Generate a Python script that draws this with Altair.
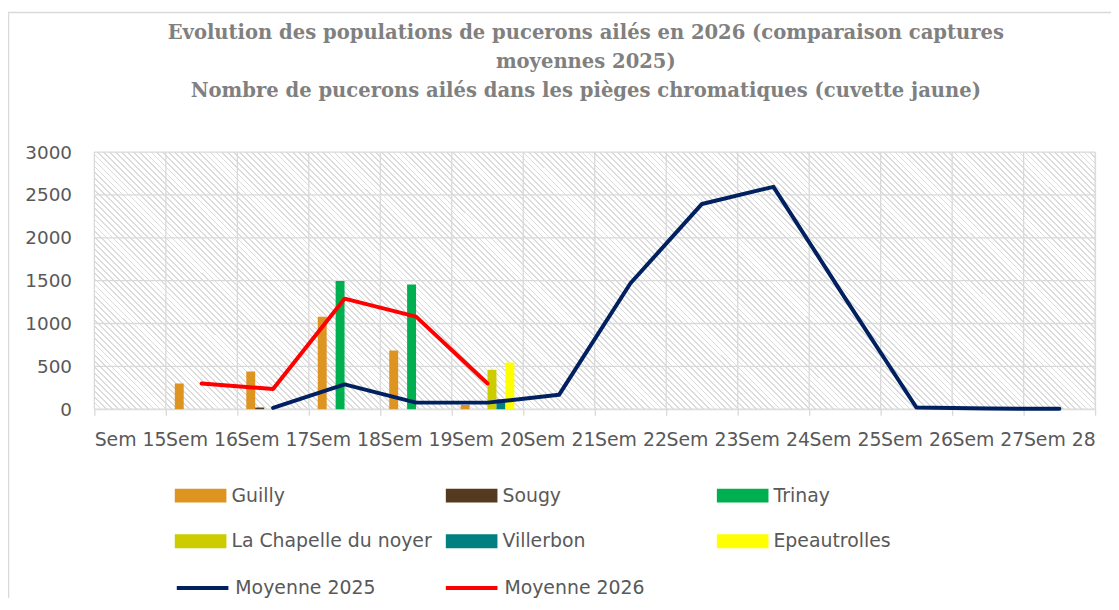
import altair as alt
import pandas as pd

weeks = ["Sem 15", "Sem 16", "Sem 17", "Sem 18", "Sem 19", "Sem 20", "Sem 21",
         "Sem 22", "Sem 23", "Sem 24", "Sem 25", "Sem 26", "Sem 27", "Sem 28"]

sites = ["Guilly", "Sougy", "Trinay", "La Chapelle du noyer", "Villerbon", "Epeautrolles"]
site_colors = ["#DE9420", "#553A20", "#00B050", "#CCCC00", "#008080", "#FFFF00"]

guilly = [None, 300, 440, 1080, 685, 50, None, None, None, None, None, None, None, None]
sougy = [None, None, 20, None, None, None, None, None, None, None, None, None, None, None]
trinay = [None, None, None, 1495, 1455, None, None, None, None, None, None, None, None, None]
la_chapelle = [None, None, None, None, None, 460, None, None, None, None, None, None, None, None]
villerbon = [None, None, None, None, None, 115, None, None, None, None, None, None, None, None]
epeautrolles = [None, None, None, None, None, 545, None, None, None, None, None, None, None, None]

avg_names = ["Moyenne 2025", "Moyenne 2026"]
avg_colors = ["#002060", "#FF0000"]
moy_2025 = [None, None, 15, 290, 77, 77, 168, 1470, 2395, 2595, 1300, 20, 8, 5]
moy_2026 = [None, 300, 235, 1290, 1080, 300, None, None, None, None, None, None, None, None]

y_ticks = [0, 500, 1000, 1500, 2000, 2500, 3000]

title_lines = [
    "Evolution des populations de pucerons ailés en 2026 (comparaison captures",
    "moyennes 2025)",
    "Nombre de pucerons ailés dans les pièges chromatiques (cuvette jaune)",
]

# ---- tables built from the arrays ----
bar_rows = []
for name, vals in zip(sites, [guilly, sougy, trinay, la_chapelle, villerbon, epeautrolles]):
    for w, v in zip(weeks, vals):
        if v is not None:
            bar_rows.append({"week": w, "site": name, "value": v})
bars_df = pd.DataFrame(bar_rows)

line_rows = []
for name, vals in zip(avg_names, [moy_2025, moy_2026]):
    for w, v in zip(weeks, vals):
        if v is not None:
            line_rows.append({"week": w, "serie": name, "value": v})
lines_df = pd.DataFrame(line_rows)

W, H = 1008, 259
GRID = "#d9d9d9"
LABEL = "#595959"
FONT = "DejaVu Sans"

# diagonal hatch (Excel pattern fill) approximated by a striped linear gradient
n_stripes = 213
frac = 0.3
stripe = "#dcdcdc"
stops = []
for k in range(n_stripes):
    a = k / n_stripes
    b = (k + frac) / n_stripes
    c = (k + 1) / n_stripes
    stops += [
        {"offset": round(a, 6), "color": stripe},
        {"offset": round(b, 6), "color": stripe},
        {"offset": round(b, 6), "color": "#ffffff"},
        {"offset": round(c, 6), "color": "#ffffff"},
    ]
hatch = alt.LinearGradient(gradient="linear", x1=0, y1=1, x2=1.179, y2=0.697, stops=stops)

xscale = alt.Scale(domain=weeks, paddingInner=0, paddingOuter=0)
yscale = alt.Scale(domain=[0, 3000], nice=False)

x_axis = alt.Axis(tickBand="extent", grid=False, domain=False, ticks=True,
                  tickSize=6, tickColor=GRID, tickWidth=1.3, labelAngle=0,
                  labelFont=FONT, labelFontSize=19, labelColor=LABEL,
                  labelPadding=16, labelOverlap=False, labelLimit=200, title=None)
y_axis = alt.Axis(values=y_ticks, format="d", grid=False, domain=False, ticks=False,
                  labelFont=FONT, labelFontSize=18.5, labelColor=LABEL,
                  labelPadding=23, title=None)

one = alt.Data(values=[{"k": 1}])

frame = alt.Chart(one).mark_rect(fill="transparent", stroke=GRID, strokeWidth=1.5).encode(
    x=alt.value(-86.5), x2=alt.value(W + 20), y=alt.value(-140.5), y2=alt.value(H + 200)
)

background = alt.Chart(one).mark_rect(fill=hatch, strokeWidth=0).encode(
    x=alt.value(0), x2=alt.value("width"), y=alt.value(0), y2=alt.value("height")
)

hgrid = alt.Chart(alt.Data(values=[{"value": v} for v in y_ticks])).mark_rule(
    color=GRID, strokeWidth=1.3
).encode(
    y=alt.Y("value:Q", scale=yscale, axis=y_axis),
    x=alt.value(0), x2=alt.value("width"),
)

vgrid = alt.Chart(alt.Data(values=[{"week": w} for w in weeks])).mark_rule(
    color=GRID, strokeWidth=1.3
).encode(
    x=alt.X("week:N", scale=xscale, bandPosition=0, axis=x_axis),
    y=alt.value(0), y2=alt.value("height"),
)

right_edge = alt.Chart(one).mark_rule(color=GRID, strokeWidth=1.3).encode(
    x=alt.value("width"), y=alt.value(0), y2=alt.value("height")
)

bars = alt.Chart(bars_df).mark_bar(strokeWidth=0).encode(
    x=alt.X("week:N", scale=xscale, axis=x_axis),
    xOffset=alt.XOffset("site:N", scale=alt.Scale(domain=sites, paddingInner=0, paddingOuter=1)),
    y=alt.Y("value:Q", scale=yscale, axis=y_axis),
    color=alt.Color("site:N", scale=alt.Scale(domain=sites, range=site_colors),
                    legend=alt.Legend(orient="none", legendX=81, legendY=320, title=None,
                                      direction="horizontal",
                                      columns=3, gridAlign="all", columnPadding=14,
                                      rowPadding=10, padding=0,
                                      symbolType="M-1,-0.27H1V0.27H-1Z", symbolSize=2704,
                                      symbolStrokeWidth=0, labelOffset=5,
                                      labelFont=FONT, labelFontSize=19, labelColor=LABEL,
                                      labelLimit=400)),
)

lines = alt.Chart(lines_df).mark_line(strokeWidth=4, strokeJoin="round", strokeCap="round").encode(
    x=alt.X("week:N", scale=xscale, axis=x_axis),
    y=alt.Y("value:Q", scale=yscale, axis=y_axis),
    stroke=alt.Stroke("serie:N", scale=alt.Scale(domain=avg_names, range=avg_colors),
                      legend=alt.Legend(orient="none", legendX=81, legendY=411, title=None,
                                        direction="horizontal",
                                        columns=2, gridAlign="all", columnPadding=62,
                                        padding=0, symbolType="M-1,0H1", symbolSize=2704,
                                        symbolStrokeWidth=4, labelOffset=5,
                                        labelFont=FONT, labelFontSize=19, labelColor=LABEL,
                                        labelLimit=400)),
)

chart = alt.layer(frame, background, hgrid, vgrid, right_edge, bars, lines).properties(
    width=W, height=H,
    autosize=alt.AutoSizeParams(type="none"),
    padding={"left": 87, "top": 143, "right": 16, "bottom": 188},
    title=alt.TitleParams(text=title_lines, font="DejaVu Serif", fontSize=19.7,
                          fontWeight="bold", color="#808080", lineHeight=29,
                          anchor="middle", dx=-9, offset=-89),
).configure_view(stroke=None).configure(background="white")

chart.save("out.html", embed_options={"renderer": "svg", "actions": False})
